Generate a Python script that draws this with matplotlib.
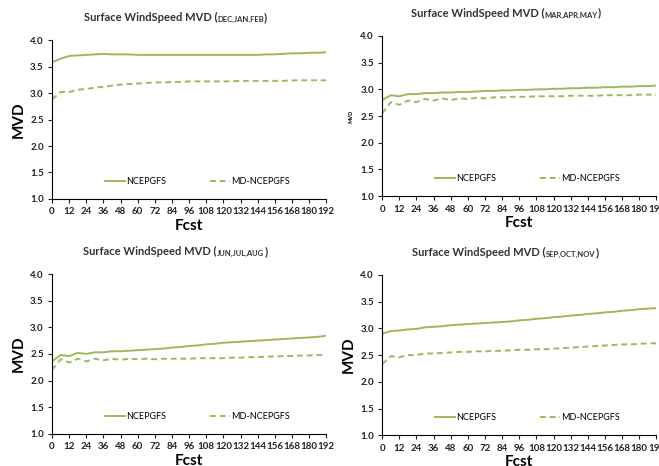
import numpy as np
from matplotlib import pyplot as plt

plt.rcParams['font.family'] = ['Lato', 'DejaVu Sans']

fcst = [0, 6, 12, 18, 24, 30, 36, 42, 48, 54, 60, 66, 72, 78, 84, 90, 96,
        102, 108, 114, 120, 126, 132, 138, 144, 150, 156, 162, 168, 174, 180, 186, 192]

seasons = ['DEC,JAN,FEB', 'MAR,APR,MAY', 'JUN,JUL,AUG', 'SEP,OCT,NOV']

gfs_djf = [3.58, 3.65, 3.70, 3.71, 3.72, 3.73, 3.74, 3.73, 3.73, 3.73, 3.72, 3.72, 3.72, 3.72, 3.72, 3.72, 3.72,
           3.72, 3.72, 3.72, 3.72, 3.72, 3.72, 3.72, 3.72, 3.73, 3.73, 3.74, 3.75, 3.75, 3.76, 3.76, 3.77]
md_djf = [2.88, 3.02, 3.02, 3.06, 3.08, 3.10, 3.12, 3.14, 3.16, 3.17, 3.18, 3.19, 3.20, 3.20, 3.21, 3.21, 3.22,
          3.22, 3.22, 3.22, 3.22, 3.22, 3.23, 3.23, 3.23, 3.23, 3.23, 3.23, 3.24, 3.24, 3.24, 3.24, 3.24]

gfs_mam = [2.80, 2.89, 2.87, 2.91, 2.91, 2.93, 2.93, 2.94, 2.94, 2.95, 2.95, 2.96, 2.97, 2.97, 2.98, 2.98, 2.99,
           2.99, 3.00, 3.00, 3.01, 3.01, 3.02, 3.02, 3.03, 3.03, 3.04, 3.04, 3.05, 3.05, 3.06, 3.06, 3.07]
md_mam = [2.55, 2.76, 2.71, 2.79, 2.76, 2.82, 2.79, 2.83, 2.80, 2.83, 2.82, 2.84, 2.83, 2.85, 2.85, 2.86, 2.86,
          2.86, 2.87, 2.87, 2.87, 2.87, 2.88, 2.88, 2.88, 2.88, 2.89, 2.89, 2.89, 2.89, 2.90, 2.90, 2.90]

gfs_jja = [2.36, 2.48, 2.46, 2.52, 2.50, 2.53, 2.53, 2.55, 2.55, 2.56, 2.57, 2.58, 2.59, 2.60, 2.62, 2.63, 2.65,
           2.66, 2.68, 2.69, 2.71, 2.72, 2.73, 2.74, 2.75, 2.76, 2.77, 2.78, 2.79, 2.80, 2.81, 2.82, 2.84]
md_jja = [2.20, 2.40, 2.34, 2.41, 2.36, 2.41, 2.38, 2.41, 2.39, 2.41, 2.40, 2.41, 2.40, 2.41, 2.41, 2.41, 2.41,
          2.42, 2.42, 2.42, 2.42, 2.43, 2.43, 2.44, 2.44, 2.45, 2.45, 2.46, 2.46, 2.47, 2.47, 2.48, 2.48]

gfs_son = [2.90, 2.95, 2.96, 2.98, 2.99, 3.02, 3.03, 3.04, 3.06, 3.07, 3.08, 3.09, 3.10, 3.11, 3.12, 3.13, 3.15,
           3.16, 3.18, 3.19, 3.21, 3.22, 3.24, 3.25, 3.27, 3.28, 3.30, 3.31, 3.33, 3.34, 3.36, 3.37, 3.38]
md_son = [2.33, 2.48, 2.46, 2.50, 2.50, 2.53, 2.53, 2.54, 2.55, 2.56, 2.56, 2.57, 2.57, 2.58, 2.58, 2.59, 2.60,
          2.60, 2.61, 2.61, 2.62, 2.63, 2.64, 2.65, 2.66, 2.67, 2.68, 2.69, 2.70, 2.70, 2.71, 2.72, 2.72]

gfs_all = [gfs_djf, gfs_mam, gfs_jja, gfs_son]
md_all = [md_djf, md_mam, md_jja, md_son]

# axes boxes in figure fraction [left, bottom, width, height]
boxes = [[0.079, 0.573, 0.416, 0.341],
         [0.580, 0.579, 0.416, 0.344],
         [0.079, 0.069, 0.416, 0.343],
         [0.580, 0.066, 0.416, 0.344]]
green = '#9bbb59'

fig = plt.figure(figsize=(6.59, 4.66), dpi=100)
renderer = fig.canvas.get_renderer()

for i in range(4):
    ax = fig.add_axes(boxes[i])
    ax.plot(fcst, gfs_all[i], color=green, lw=1.4, label='NCEPGFS')
    ax.plot(fcst, md_all[i], color=green, lw=1.4, ls=(0, (3, 2)), label='MD-NCEPGFS')
    ax.set_xlim(0, 192)
    ax.set_ylim(1.0, 4.0)
    ax.set_xticks(np.arange(0, 193, 12))
    ax.set_yticks(np.arange(1.0, 4.01, 0.5))
    ax.set_yticklabels(['%.1f' % v for v in np.arange(1.0, 4.01, 0.5)])
    ax.tick_params(labelsize=7, length=3, width=0.8, pad=3, colors='#222222')
    for lab in ax.get_xticklabels() + ax.get_yticklabels():
        lab.set_fontweight('bold')
    ax.spines['top'].set_visible(False)
    ax.spines['right'].set_visible(False)
    ax.set_xlabel('Fcst', fontsize=11, fontweight='bold', labelpad=2)
    if i == 1:
        ax.set_ylabel('MVD', fontsize=4, fontweight='bold', labelpad=5)
    else:
        ax.set_ylabel('MVD', fontsize=11, fontweight='bold', labelpad=3)
    ax.legend(loc='lower center', bbox_to_anchor=(0.53, 0.03), ncol=2, frameon=False,
              fontsize=6.5, handlelength=2.2, handletextpad=0.2, columnspacing=4.8)

    # title with small caps part
    t1 = ax.text(0.45, 1.12, 'Surface WindSpeed MVD (', transform=ax.transAxes,
                 fontsize=8, fontweight='bold', ha='left', va='baseline', color='#333333')
    t2 = ax.annotate(seasons[i], xy=(1, 0), xycoords=t1, fontsize=5.5, fontweight='bold',
                     ha='left', va='bottom', color='#333333')
    t3 = ax.annotate(')', xy=(1, 0), xycoords=t2, fontsize=8, fontweight='bold',
                     ha='left', va='bottom', color='#333333')
    w = (t1.get_window_extent(renderer).width + t2.get_window_extent(renderer).width
         + t3.get_window_extent(renderer).width)
    axw = ax.get_window_extent(renderer).width
    t1.set_x(0.45 - 0.5 * w / axw)

fig.savefig('out.png', dpi=100)
